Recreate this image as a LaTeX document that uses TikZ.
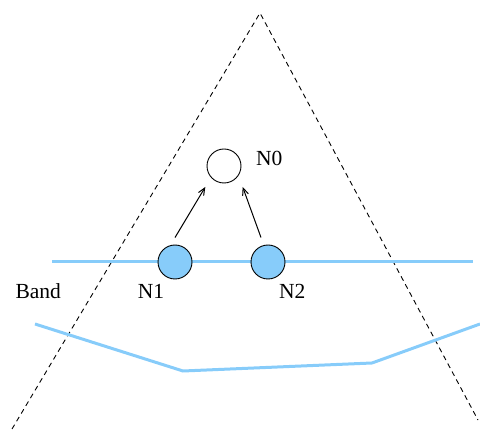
\documentclass[tikz,border=0pt]{standalone}
\usepackage{fontspec}
\setmainfont{Liberation Serif}
\usetikzlibrary{arrows.meta}
\definecolor{bandblue}{RGB}{135,204,250}
\tikzset{
  cone/.style={black, line width=0.9pt, dash pattern=on 5pt off 4pt},
  bandline/.style={bandblue, line width=3pt},
  nodeA/.style={circle, draw=black, line width=0.9pt, minimum size=34pt, inner sep=0pt},
  nodeB/.style={nodeA, fill=bandblue},
  lab/.style={font=\fontsize{21.5}{24}\selectfont, inner sep=0pt, anchor=base},
  arr/.style={line width=1pt, -{Straight Barb[length=7pt,width=6pt]}}
}
\begin{document}
\begin{tikzpicture}[x=1pt,y=-1pt]
\useasboundingbox (0,0) rectangle (480,430);
% cone
\coordinate (apex) at (260,13);
\coordinate (cl) at (12,429);
\coordinate (cr) at (478,420);
\draw[cone] (cl) -- (apex) -- (cr);
% band lines
\coordinate (b1) at (52,262);
\coordinate (b2) at (473,262);
\draw[bandline] (b1) -- (b2);
\coordinate (p1) at (35,324);
\coordinate (p2) at (183,371);
\coordinate (p3) at (372,363);
\coordinate (p4) at (480,324);
\draw[bandline] (p1) -- (p2) -- (p3) -- (p4);
% nodes
\node[nodeA] (N0) at (224,166) {};
\node[nodeB] (N1) at (175,262) {};
\node[nodeB] (N2) at (268,262) {};
% labels
\node[lab] (t0) at (269.3,165.7) {N0};
\node[lab] (t1) at (151,299) {N1};
\node[lab] (t2) at (292.3,299) {N2};
\node[lab] (tb) at (38.3,299) {Band};
% arrows
\draw[arr] ([yshift=7pt]N1.north) -- ([shift={(-7,8)}]N0.228);
\draw[arr] ([shift={(-7,-7)}]N2.north) -- ([shift={(7,8)}]N0.312);
\end{tikzpicture}
\end{document}
